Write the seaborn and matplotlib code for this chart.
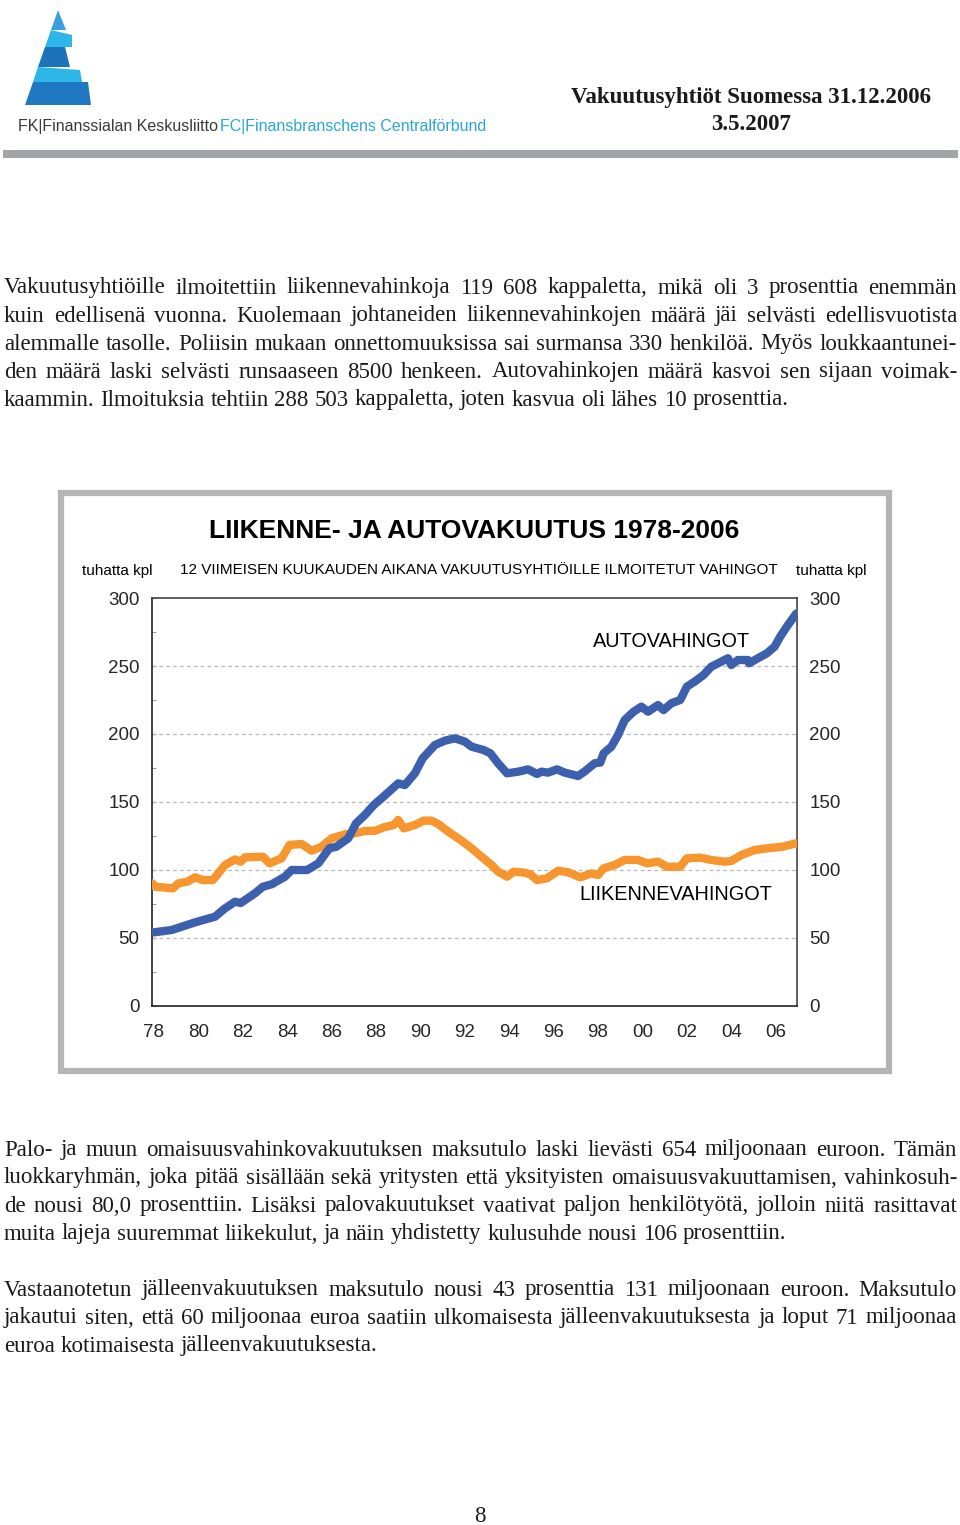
import matplotlib
matplotlib.use("Agg")
import numpy as np
import pandas as pd
import matplotlib.pyplot as plt
import seaborn as sns
from matplotlib.patches import Polygon, Rectangle
from matplotlib.font_manager import FontProperties

# Aineisto: 12 kk liukuva summa, tuhatta kpl (luettu kuvasta)
vuodet_auto = [1977.92, 1978.8, 1979.85, 1980.75, 1981.2, 1981.65, 1981.9, 1982.55, 1982.9, 1983.3,
               1983.9, 1984.2, 1984.9, 1985.4, 1985.9, 1986.2, 1986.75, 1987.1, 1987.5, 1987.9,
               1988.25, 1989.0, 1989.3, 1989.75, 1990.1, 1990.65, 1991.1, 1991.55, 1992.0, 1992.3,
               1992.85, 1993.15, 1993.5, 1993.9, 1994.4, 1994.85, 1995.25, 1995.45, 1995.75, 1996.15,
               1996.5, 1997.1, 1997.4, 1997.85, 1998.1, 1998.25, 1998.6, 1998.9, 1999.2, 1999.6,
               1999.95, 2000.25, 2000.7, 2000.95, 2001.3, 2001.7, 2002.0, 2002.35, 2002.75, 2003.1,
               2003.55, 2003.85, 2004.0, 2004.3, 2004.75, 2004.8, 2005.2, 2005.6, 2005.95, 2006.2,
               2006.5, 2006.92]
arvot_auto = [54, 55.9, 61.5, 65.7, 71.8, 76.7, 75.7, 82.9, 87.7, 89.5,
              95.1, 100, 100, 104.9, 116, 117, 123.3, 134.3, 140.5, 147.8,
              152.7, 163.7, 162.5, 171.1, 182.1, 191.9, 195.1, 196.8, 194.4, 190.7,
              188.2, 185.8, 178.4, 171.1, 172.3, 174, 170.6, 172.3, 171.6, 174,
              171.6, 169.1, 172.5, 178.5, 179, 185.8, 190.7, 199.3, 210.3, 216.4,
              220.1, 216.4, 221.3, 217.6, 222.6, 225, 234.8, 238.5, 243.4, 249.5,
              253.2, 255.7, 250.7, 254.4, 254.4, 252, 255.7, 259.3, 264.2, 271.5,
              278.9, 288.5]

vuodet_liik = [1977.92, 1978.05, 1978.85, 1979.1, 1979.5, 1979.85, 1980.2, 1980.65, 1981.2, 1981.65,
               1981.9, 1982.1, 1982.9, 1983.2, 1983.75, 1984.1, 1984.65, 1985.1, 1985.55, 1986.0,
               1986.6, 1987.05, 1987.5, 1987.95, 1988.35, 1988.8, 1989.0, 1989.25, 1989.75, 1990.15,
               1990.5, 1990.8, 1991.25, 1991.85, 1992.3, 1992.75, 1993.2, 1993.5, 1993.9, 1994.2,
               1994.7, 1994.95, 1995.25, 1995.7, 1996.2, 1996.65, 1997.2, 1997.7, 1998.0, 1998.25,
               1998.75, 1999.2, 1999.8, 2000.2, 2000.7, 2001.1, 2001.7, 2002.0, 2002.6, 2003.1,
               2003.7, 2004.0, 2004.45, 2005.05, 2005.65, 2006.3, 2006.92]
arvot_liik = [90.2, 87.7, 86.5, 90.2, 91.4, 94.6, 92.6, 92.6, 103.7, 107.8,
              106.1, 109.3, 109.8, 104.9, 108.6, 118.4, 119.1, 114.2, 117.1, 123.3,
              126.2, 127, 128.7, 128.8, 131.4, 133.1, 136.8, 130.6, 133.1, 136.3,
              136.3, 133.8, 128.2, 121.6, 116, 109.8, 103.7, 98.8, 95.1, 98.8,
              98, 96.8, 92.6, 93.9, 99.5, 98.3, 94.6, 97.5, 96.3, 101.2,
              103.7, 107.4, 107.4, 104.9, 106.1, 102.4, 102.4, 108.6, 109.1, 107.4,
              106.1, 106.6, 111, 114.7, 116, 117.1, 119.6]

x_tikit = list(range(1978, 2007, 2))
x_tikit_tekstit = ["%02d" % (v % 100) for v in x_tikit]
y_tikit = [0, 50, 100, 150, 200, 250, 300]

teksti1 = [
    "Vakuutusyhtiöille ilmoitettiin liikennevahinkoja 119 608 kappaletta, mikä oli 3 prosenttia enemmän",
    "kuin edellisenä vuonna. Kuolemaan johtaneiden liikennevahinkojen määrä jäi selvästi edellisvuotista",
    "alemmalle tasolle. Poliisin mukaan onnettomuuksissa sai surmansa 330 henkilöä. Myös loukkaantunei-",
    "den määrä laski selvästi runsaaseen 8500 henkeen. Autovahinkojen määrä kasvoi sen sijaan voimak-",
    "kaammin. Ilmoituksia tehtiin 288 503 kappaletta, joten kasvua oli lähes 10 prosenttia.",
]
teksti2 = [
    "Palo- ja muun omaisuusvahinkovakuutuksen maksutulo laski lievästi 654 miljoonaan euroon. Tämän",
    "luokkaryhmän, joka pitää sisällään sekä yritysten että yksityisten omaisuusvakuuttamisen, vahinkosuh-",
    "de nousi 80,0 prosenttiin. Lisäksi palovakuutukset vaativat paljon henkilötyötä, jolloin niitä rasittavat",
    "muita lajeja suuremmat liikekulut, ja näin yhdistetty kulusuhde nousi 106 prosenttiin.",
]
teksti3 = [
    "Vastaanotetun jälleenvakuutuksen maksutulo nousi 43 prosenttia 131 miljoonaan euroon. Maksutulo",
    "jakautui siten, että 60 miljoonaa euroa saatiin ulkomaisesta jälleenvakuutuksesta ja loput 71 miljoonaa",
    "euroa kotimaisesta jälleenvakuutuksesta.",
]

SININEN = "#3c5fae"
ORANSSI = "#f7952e"
W, H = 960, 1525

sns.set_style("white")
plt.rcParams['font.family'] = ['Liberation Sans', 'DejaVu Sans']

fig = plt.figure(figsize=(W / 100, H / 100), dpi=100)
sivu = fig.add_axes([0, 0, 1, 1])
sivu.set_xlim(0, W)
sivu.set_ylim(H, 0)
sivu.axis("off")

# logo
logo_osat = [
    ([(58, 10), (66, 30), (51, 30)], "#3a9ee0"),
    ([(51, 30), (72, 35), (72, 47), (45, 47)], "#2db6e8"),
    ([(45, 47), (65, 47), (70, 67), (38, 67)], "#1c72bb"),
    ([(38, 67), (80, 70), (82, 82), (33, 82)], "#2db6e8"),
    ([(33, 82), (88, 82), (91, 105), (25, 105)], "#1f79c2"),
]
for pisteet, vari in logo_osat:
    sivu.add_patch(Polygon(pisteet, closed=True, color=vari, lw=0))
sivu.text(18, 126, "FK|Finanssialan Keskusliitto", fontsize=11.5, color="#3a3a3a",
          va="center", ha="left")
sivu.text(220, 126, "FC|Finansbranschens Centralförbund", fontsize=11.5, color="#2aa6d6",
          va="center", ha="left")

serif = ['Liberation Serif', 'DejaVu Serif']
sivu.text(751, 97, "Vakuutusyhtiöt Suomessa 31.12.2006", fontsize=16.5, fontweight="bold",
          family=serif, ha="center", va="center", color="#1a1a1a")
sivu.text(751, 125, "3.5.2007", fontsize=16.5, fontweight="bold",
          family=serif, ha="center", va="center", color="#1a1a1a")
sivu.add_patch(Rectangle((3, 150), 955, 8, color="#a3a5a8", lw=0))

# tasattu leipäteksti
fig.canvas.draw()
renderer = fig.canvas.get_renderer()
fp = FontProperties(family=serif, size=16.5)


def leveys(s):
    return renderer.get_text_width_height_descent(s, fp, ismath=False)[0]


def kappale(rivit, y0, x0=4, x1=957, dy=28):
    valin = leveys("x x") - leveys("xx")
    for i, rivi in enumerate(rivit):
        sanat = rivi.split(" ")
        lev = [leveys(s) for s in sanat]
        viimeinen = i == len(rivit) - 1
        if viimeinen or len(sanat) < 2:
            vali = valin
        else:
            vali = (x1 - x0 - sum(lev)) / (len(sanat) - 1)
        x = x0
        for s, l in zip(sanat, lev):
            sivu.text(x, y0 + i * dy, s, fontproperties=fp, ha="left", va="center", color="#1a1a1a")
            x += l + vali


kappale(teksti1, 288)
kappale(teksti2, 1150)
kappale(teksti3, 1290)
sivu.text(480, 1517, "8", fontproperties=fp, ha="center", va="center", color="#1a1a1a")

# kaavion kehys
sivu.add_patch(Rectangle((61, 493), 828, 578, fill=False, ec="#b5b5b7", lw=4.5))
sivu.text(474, 531, "LIIKENNE- JA AUTOVAKUUTUS 1978-2006", fontsize=19, fontweight="bold",
          ha="center", va="center", color="black")
sivu.text(479, 570, "12 VIIMEISEN KUUKAUDEN AIKANA VAKUUTUSYHTIÖILLE ILMOITETUT VAHINGOT",
          fontsize=11, ha="center", va="center", color="black")
sivu.text(117, 571, "tuhatta kpl", fontsize=11, ha="center", va="center", color="black")
sivu.text(831, 571, "tuhatta kpl", fontsize=11, ha="center", va="center", color="black")

# kaavio
ax = fig.add_axes([152 / W, 1 - 1006 / H, 645 / W, 408 / H])
df_auto = pd.DataFrame({"vuosi": vuodet_auto, "tuhatta": arvot_auto})
df_liik = pd.DataFrame({"vuosi": vuodet_liik, "tuhatta": arvot_liik})
sns.lineplot(data=df_liik, x="vuosi", y="tuhatta", ax=ax, color=ORANSSI, lw=6,
             sort=False, solid_capstyle="round", solid_joinstyle="round", zorder=3)
sns.lineplot(data=df_auto, x="vuosi", y="tuhatta", ax=ax, color=SININEN, lw=6,
             sort=False, solid_capstyle="round", solid_joinstyle="round", zorder=4)
ax.set_xlim(1977.91, 2006.96)
ax.set_ylim(0, 300)
ax.set_xlabel("")
ax.set_ylabel("")
ax.set_xticks(x_tikit)
ax.set_xticklabels(x_tikit_tekstit, fontsize=13.5)
ax.set_yticks(y_tikit)
ax.set_yticklabels([str(v) for v in y_tikit], fontsize=13.5)
ax.set_yticks(np.arange(25, 300, 50), minor=True)
ax.tick_params(axis="x", length=0, pad=13)
ax.tick_params(axis="y", which="both", direction="in", length=3, color="#888888",
               pad=9, left=True, right=False, labelleft=True, labelright=True)
for v in y_tikit[1:-1]:
    ax.axhline(v, color="#b8b8b8", lw=0.9, ls=(0, (3, 2.5)), zorder=1)
for s in ax.spines.values():
    s.set_visible(True)
    s.set_color("#222222")
    s.set_linewidth(1.2)
ax.spines["top"].set_color("#444444")
ax.spines["right"].set_color("#444444")
ax.text(2001.3, 268, "AUTOVAHINGOT", fontsize=14.3, ha="center", va="center", color="black")
ax.text(2001.5, 82, "LIIKENNEVAHINGOT", fontsize=14.3, ha="center", va="center", color="black")

fig.savefig("out.png", dpi=100)
